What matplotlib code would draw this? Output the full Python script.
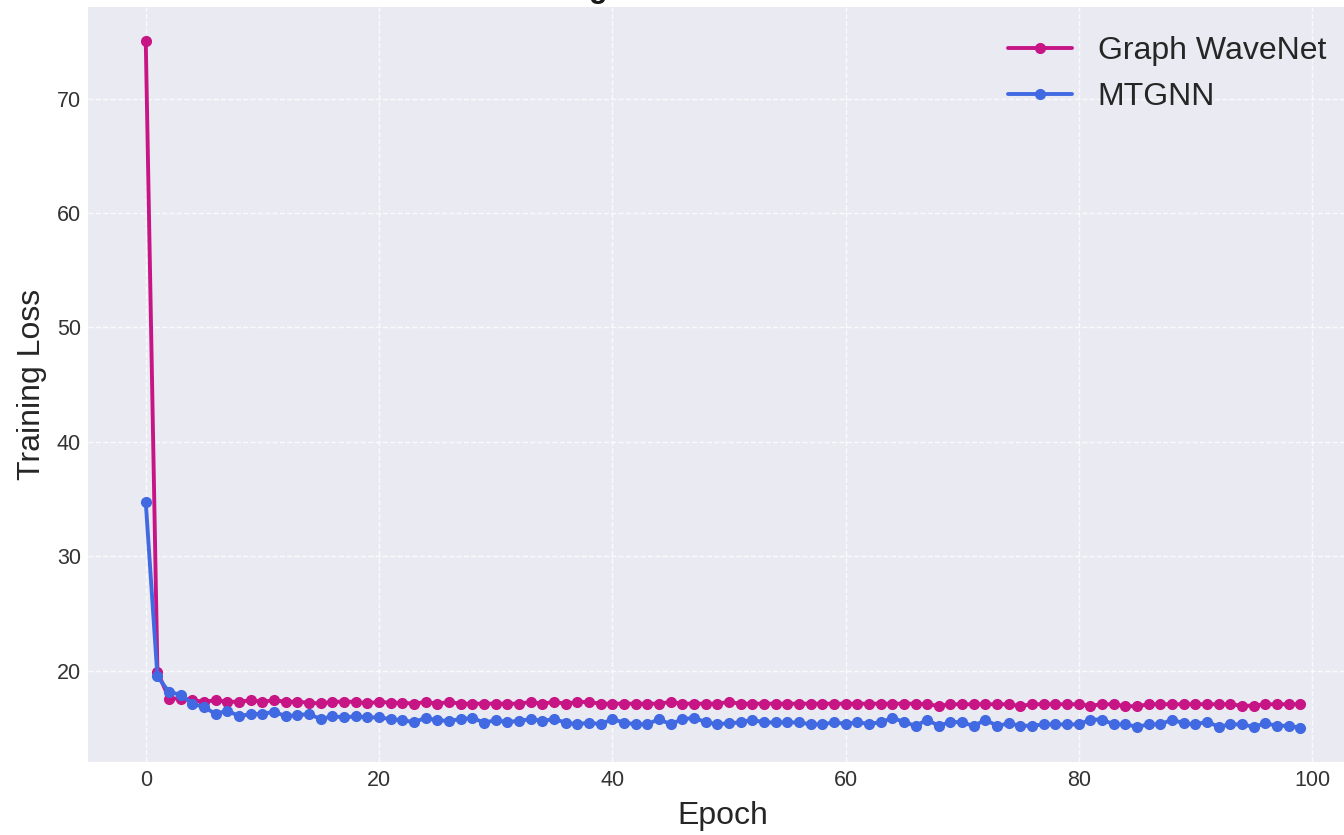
import matplotlib
matplotlib.use("Agg")
import matplotlib.pyplot as plt

plt.style.use('seaborn-v0_8-darkgrid')
plt.rcParams['font.family'] = ['Liberation Sans', 'DejaVu Sans']

epochs = list(range(100))

graph_wavenet = [
    75.0, 19.9, 17.55, 17.55, 17.4, 17.27, 17.4, 17.27, 17.27, 17.4,
    17.27, 17.4, 17.27, 17.27, 17.18, 17.12, 17.27, 17.27, 17.27, 17.12,
    17.27, 17.18, 17.18, 17.1, 17.25, 17.1, 17.25, 17.1, 17.1, 17.1,
    17.1, 17.1, 17.1, 17.25, 17.1, 17.25, 17.1, 17.25, 17.25, 17.1,
    17.1, 17.1, 17.1, 17.1, 17.1, 17.25, 17.1, 17.1, 17.1, 17.1,
    17.25, 17.1, 17.1, 17.1, 17.1, 17.1, 17.1, 17.1, 17.1, 17.1,
    17.1, 17.1, 17.1, 17.1, 17.1, 17.1, 17.1, 17.05, 16.9, 17.05,
    17.05, 17.05, 17.05, 17.05, 17.05, 16.9, 17.05, 17.05, 17.05, 17.05,
    17.05, 16.92, 17.05, 17.05, 16.88, 16.88, 17.05, 17.05, 17.05, 17.05,
    17.05, 17.05, 17.05, 17.05, 16.92, 16.92, 17.05, 17.05, 17.05, 17.05,
]

mtgnn = [
    34.7, 19.5, 18.1, 17.9, 17.1, 16.8, 16.2, 16.5, 16.0, 16.2,
    16.2, 16.4, 16.0, 16.1, 16.2, 15.75, 16.0, 15.9, 16.0, 15.9,
    15.9, 15.75, 15.65, 15.5, 15.85, 15.65, 15.6, 15.75, 15.85, 15.45,
    15.65, 15.5, 15.6, 15.75, 15.6, 15.75, 15.45, 15.3, 15.45, 15.3,
    15.75, 15.45, 15.3, 15.3, 15.75, 15.3, 15.75, 15.85, 15.5, 15.3,
    15.4, 15.46, 15.7, 15.46, 15.46, 15.46, 15.46, 15.3, 15.3, 15.46,
    15.35, 15.46, 15.35, 15.46, 15.85, 15.52, 15.15, 15.7, 15.15, 15.52,
    15.46, 15.15, 15.7, 15.15, 15.38, 15.17, 15.17, 15.29, 15.29, 15.29,
    15.29, 15.71, 15.71, 15.29, 15.29, 15.08, 15.29, 15.29, 15.71, 15.38,
    15.29, 15.52, 15.08, 15.29, 15.29, 15.08, 15.38, 15.17, 15.17, 15.0,
]

series_names = ['Graph WaveNet', 'MTGNN']
series_colors = ['mediumvioletred', 'royalblue']

fig = plt.figure(figsize=(13.44, 8.35), dpi=100)
ax = fig.add_axes([0.0655, 0.0874, 0.945, 0.9042])
ax.set_facecolor('#EAEAF2')

for vals, name, col in zip([graph_wavenet, mtgnn], series_names, series_colors):
    ax.plot(epochs, vals, marker='o', markersize=7, linewidth=2.8,
            color=col, label=name)

ax.grid(True, color='white', linestyle='--', linewidth=1.0, alpha=0.8)
ax.set_xlabel('Epoch', fontsize=23, color='.15', labelpad=7)
ax.set_ylabel('Training Loss', fontsize=23, color='.15', labelpad=7)
ax.tick_params(axis='x', labelsize=15.5, colors='.2', pad=6)
ax.tick_params(axis='y', labelsize=15.5, colors='.2', pad=5)
ax.set_title('Training Loss Curves Over Time', fontsize=22,
             fontweight='bold', pad=7, color='.1')
leg = ax.legend(loc='upper right', fontsize=23, frameon=False,
                bbox_to_anchor=(1355 / 1344, 1 - 7 / 835),
                bbox_transform=fig.transFigure)

fig.savefig('out.png', dpi=100)
